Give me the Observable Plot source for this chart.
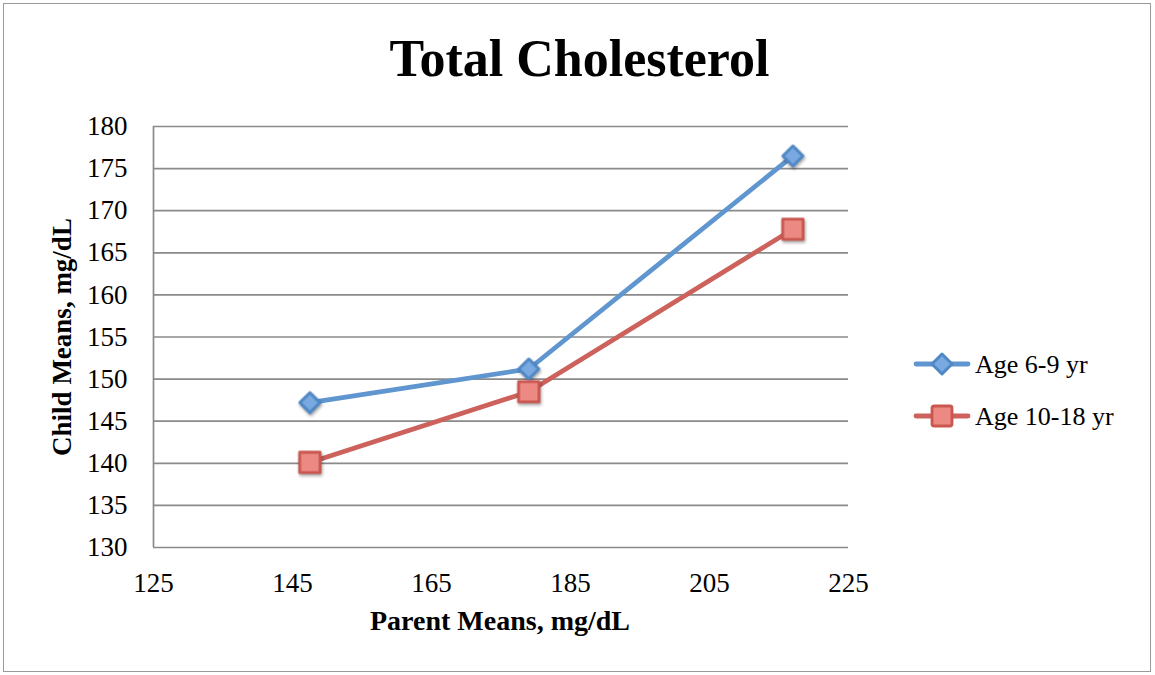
<!DOCTYPE html>
<html>
<head>
<meta charset="utf-8">
<script src="https://cdn.jsdelivr.net/npm/d3@7"></script>
<script src="https://cdn.jsdelivr.net/npm/@observablehq/plot@0.6"></script>
<style>
  html, body { margin: 0; padding: 0; background: #fff; }
  #wrap { position: relative; width: 1155px; height: 675px; overflow: hidden; font-family: "Liberation Serif", serif; color: #000; }
  #frame { position: absolute; left: 3px; top: 3px; width: 1148px; height: 669px; border: 1.5px solid #9a9a9a; box-sizing: border-box; }
  #chart { position: absolute; left: 0; top: 0; }
  .title { position: absolute; left: 2px; width: 1155px; top: 33px; text-align: center; font-size: 52px; font-weight: bold; line-height: 1; }
  .xlabel { position: absolute; left: 300px; width: 400px; top: 607px; text-align: center; font-size: 28px; font-weight: bold; line-height: 1; }
  .ylabel { position: absolute; left: 62px; top: 337px; transform: translate(-50%, -50%) rotate(-90deg); white-space: nowrap; font-size: 27px; font-weight: bold; line-height: 1; }
  .legend { position: absolute; left: 912px; top: 338px; }
  .legend .row { display: flex; align-items: center; height: 52px; }
  .legend svg { display: block; }
  .legend span { font-size: 26px; margin-left: 3px; line-height: 1; position: relative; top: 1px; }
</style>
</head>
<body>
<div id="wrap">
  <div id="frame"></div>
  <div id="chart"></div>
  <div class="title" id="title"></div>
  <div class="xlabel" id="xlabel"></div>
  <div class="ylabel" id="ylabel"></div>
  <div class="legend" id="legend"></div>
</div>
<script>
// ---- data ----
const chartTitle = "Total Cholesterol";
const xTitle = "Parent Means, mg/dL";
const yTitle = "Child Means, mg/dL";
const seriesNames = ["Age 6-9 yr", "Age 10-18 yr"];
const parentMeans = [147.5, 179, 217];
const childAge6to9 = [147.2, 151.2, 176.5];
const childAge10to18 = [140.1, 148.5, 167.8];
const xTicks = [125, 145, 165, 185, 205, 225];
const yTicks = [130, 135, 140, 145, 150, 155, 160, 165, 170, 175, 180];

// ---- styles ----
const lineColors = ["#6096CF", "#CD625C"];
const markerFill = ["#79A9E0", "#EC8983"];
const markerStroke = ["#5088C6", "#C9564F"];
const gridColor = "#8a8a8a";

const seriesValues = [childAge6to9, childAge10to18];
const rows = seriesNames.flatMap((s, i) =>
  parentMeans.map((x, j) => ({ series: s, x, y: seriesValues[i][j] }))
);

const plot = Plot.plot({
  width: 1155,
  height: 675,
  marginLeft: 153,
  marginRight: 307,
  marginTop: 126,
  marginBottom: 128,
  style: { fontFamily: "'Liberation Serif', serif", fontSize: "27px", color: "#000", background: "transparent", overflow: "visible" },
  x: { domain: [125, 225], label: null },
  y: { domain: [130, 180], label: null },
  color: { domain: seriesNames, range: lineColors },
  marks: [
    Plot.ruleY(yTicks, { stroke: gridColor, strokeWidth: 1.7 }),
    Plot.ruleX([xTicks[0]], { stroke: gridColor, strokeWidth: 1.7 }),
    Plot.axisX({ ticks: xTicks, tickSize: 0, tickPadding: 25, label: null, fontSize: 27 }),
    Plot.axisY({ ticks: yTicks, tickSize: 0, tickPadding: 26, label: null, fontSize: 27 }),
    Plot.line(rows, { x: "x", y: "y", z: "series", stroke: "series", strokeWidth: 4.8, strokeLinejoin: "round", strokeLinecap: "round" }),
    Plot.dot(rows.filter(d => d.series === seriesNames[0]), {
      x: "x", y: "y", symbol: "diamond2", r: 9,
      fill: markerFill[0], stroke: markerStroke[0], strokeWidth: 3, strokeLinejoin: "round"
    }),
    Plot.dot(rows.filter(d => d.series === seriesNames[1]), {
      x: "x", y: "y", symbol: "square", r: 11.5,
      fill: markerFill[1], stroke: markerStroke[1], strokeWidth: 2.8, strokeLinejoin: "round"
    })
  ]
});
plot.querySelectorAll('g[aria-label="dot"]').forEach(g => {
  g.style.filter = "drop-shadow(1px 2px 1.5px rgba(0,0,0,0.35))";
});
document.getElementById("chart").appendChild(plot);

document.getElementById("title").textContent = chartTitle;
document.getElementById("xlabel").textContent = xTitle;
document.getElementById("ylabel").textContent = yTitle;

// legend
const legend = document.getElementById("legend");
seriesNames.forEach((name, i) => {
  const row = document.createElement("div");
  row.className = "row";
  const ns = "http://www.w3.org/2000/svg";
  const svg = document.createElementNS(ns, "svg");
  svg.setAttribute("width", 60);
  svg.setAttribute("height", 30);
  const ln = document.createElementNS(ns, "line");
  ln.setAttribute("x1", 4); ln.setAttribute("x2", 56);
  ln.setAttribute("y1", 15); ln.setAttribute("y2", 15);
  ln.setAttribute("stroke", lineColors[i]);
  ln.setAttribute("stroke-width", 4.8);
  ln.setAttribute("stroke-linecap", "round");
  svg.appendChild(ln);
  let m;
  if (i === 0) {
    m = document.createElementNS(ns, "path");
    m.setAttribute("d", "M30,5 L40,15 L30,25 L20,15 Z");
  } else {
    m = document.createElementNS(ns, "rect");
    m.setAttribute("x", 20); m.setAttribute("y", 5);
    m.setAttribute("width", 20); m.setAttribute("height", 20);
    m.setAttribute("rx", 2);
  }
  m.setAttribute("fill", markerFill[i]);
  m.setAttribute("stroke", markerStroke[i]);
  m.setAttribute("stroke-width", i === 0 ? 3 : 2.8);
  m.setAttribute("stroke-linejoin", "round");
  svg.appendChild(m);
  row.appendChild(svg);
  const sp = document.createElement("span");
  sp.textContent = name;
  row.appendChild(sp);
  legend.appendChild(row);
});
</script>
</body>
</html>
